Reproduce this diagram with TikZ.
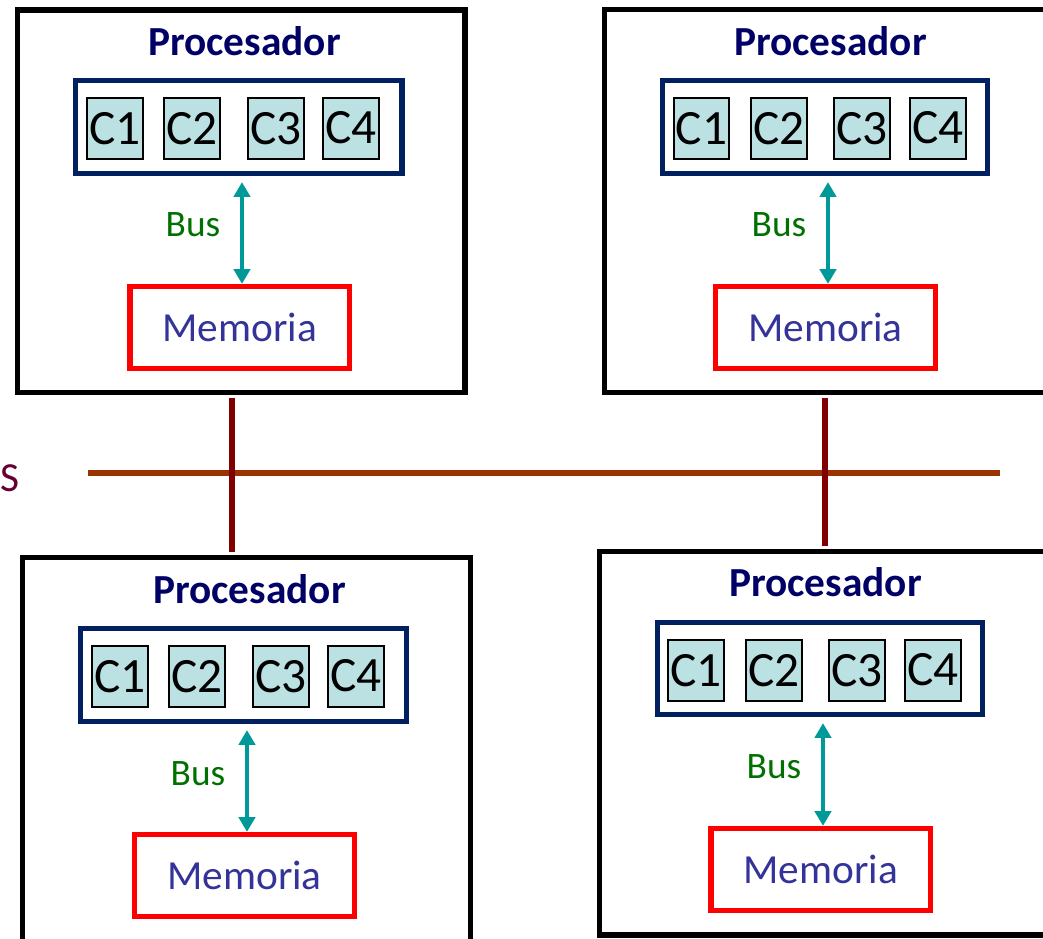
\documentclass[tikz,border=0pt]{standalone}
\usepackage{fontspec}
\setmainfont{Carlito}
\usetikzlibrary{arrows.meta}
\definecolor{navybox}{HTML}{002060}
\definecolor{procblue}{HTML}{000066}
\definecolor{corefill}{HTML}{BCE1E3}
\definecolor{busgreen}{HTML}{007000}
\definecolor{busteal}{HTML}{009999}
\definecolor{memred}{HTML}{FF0000}
\definecolor{memtext}{HTML}{333399}
\definecolor{netline}{HTML}{993300}
\definecolor{linkline}{HTML}{800000}
\definecolor{stext}{HTML}{660033}
\newcommand\rbox[7]{%
  \pgfmathsetmacro\bw{(#5-#3)*0.75}%
  \pgfmathsetmacro\bh{(#6-#4)*0.75}%
  \node[#2, minimum width=\bw pt, minimum height=\bh pt] (#1) at ({(#3+#5)/2},{(#4+#6)/2}) {#7};}
\newcommand\lowc[1]{\raisebox{-2.5pt}{#1}}
\newcommand\highc[1]{\raisebox{1.2pt}{#1}}
\begin{document}
\begin{tikzpicture}[x=0.75pt,y=-0.75pt,
  outer/.style={draw=black, line width=3.9pt, fill=white, inner sep=0pt},
  cache/.style={draw=navybox, line width=3.9pt, inner sep=0pt},
  core/.style={draw=black, line width=1.1pt, fill=corefill, inner sep=0pt, font=\fontsize{37}{37}\selectfont, text=black},
  mem/.style={draw=memred, line width=3.9pt, inner sep=0pt, font=\fontsize{31}{31}\selectfont, text=memtext},
  proc/.style={anchor=base, inner sep=0pt, font=\fontsize{31}{31}\selectfont\bfseries, text=procblue},
  buslbl/.style={anchor=base, inner sep=0pt, font=\fontsize{28}{28}\selectfont, text=busgreen},
  busarrow/.style={draw=busteal, line width=3.6pt, {Triangle[width=12pt,length=11pt]}-{Triangle[width=12pt,length=11pt]}, shorten <=4.5pt},
  netstyle/.style={draw=netline, line width=3.8pt},
  linkstyle/.style={draw=linkline, line width=3.8pt}]
\useasboundingbox (0,0) rectangle (1043,939);
\clip (0,0) rectangle (1043,939);
% ---------- top left ----------
\rbox{tlo}{outer}{17.5}{10}{465}{392.5}{}
\node[proc] (tlp) at (244.5,55) {Procesador};
\rbox{tlc}{cache}{75.5}{80.5}{402}{173.5}{}
\rbox{tl1}{core}{87}{98}{143}{159}{\lowc{C1}}
\rbox{tl2}{core}{164}{98}{220}{159}{\raisebox{-4pt}{C2}}
\rbox{tl3}{core}{248}{98}{304}{159}{C3}
\rbox{tl4}{core}{323}{98}{379}{159}{\highc{C4}}
\rbox{tlm}{mem}{130}{286.5}{349.5}{368.5}{Memoria}
\coordinate (tla) at (242,0);
\draw[busarrow] (tla |- tlc.south) -- (tla |- tlm.north);
\node[buslbl] (tlb) at (193,236.5) {Bus};
% ---------- top right ----------
\rbox{tro}{outer}{604.5}{9.5}{1070}{392.5}{}
\node[proc] (trp) at (830.5,55) {Procesador};
\rbox{trc}{cache}{662.5}{80.5}{987.5}{173.5}{}
\rbox{tr1}{core}{674}{98}{729}{159}{\lowc{C1}}
\rbox{tr2}{core}{751}{98}{807}{159}{\raisebox{-4pt}{C2}}
\rbox{tr3}{core}{834}{98}{890}{159}{C3}
\rbox{tr4}{core}{910}{98}{966}{159}{\highc{C4}}
\rbox{trm}{mem}{715.5}{286.5}{935.5}{368.5}{Memoria}
\coordinate (tra) at (828,0);
\draw[busarrow] (tra |- trc.south) -- (tra |- trm.north);
\node[buslbl] (trb) at (779,236.5) {Bus};
% ---------- bottom left ----------
\rbox{blo}{outer}{22.5}{557.5}{470.5}{975}{}
\node[proc] (blp) at (249.5,603) {Procesador};
\rbox{blc}{cache}{80.5}{628.5}{406.5}{721.5}{}
\rbox{bl1}{core}{92}{646}{148}{707}{\lowc{C1}}
\rbox{bl2}{core}{169}{646}{225}{707}{\raisebox{-4pt}{C2}}
\rbox{bl3}{core}{253}{646}{309}{707}{C3}
\rbox{bl4}{core}{328}{646}{384}{707}{\highc{C4}}
\rbox{blm}{mem}{134.5}{834.5}{354.5}{916.5}{Memoria}
\coordinate (bla) at (247,0);
\draw[busarrow] (bla |- blc.south) -- (bla |- blm.north);
\node[buslbl] (blb) at (198,785) {Bus};
% ---------- bottom right ----------
\rbox{bro}{outer}{599.5}{551.5}{1070}{935}{}
\node[proc] (brp) at (825.5,596.7) {Procesador};
\rbox{brc}{cache}{657.5}{622.5}{982.5}{714.5}{}
\rbox{br1}{core}{668}{640}{724}{701}{\lowc{C1}}
\rbox{br2}{core}{746}{640}{802}{701}{\raisebox{-4pt}{C2}}
\rbox{br3}{core}{829}{640}{885}{701}{C3}
\rbox{br4}{core}{905}{640}{961}{701}{\highc{C4}}
\rbox{brm}{mem}{711}{828.5}{930.5}{910.5}{Memoria}
\coordinate (bra) at (823,0);
\draw[busarrow] (bra |- brc.south) -- (bra |- brm.north);
\node[buslbl] (brb) at (774,778) {Bus};
% ---------- interconnect ----------
\node[anchor=base west, inner sep=0pt, font=\fontsize{31}{31}\selectfont, text=stext] (slbl) at (0,491.5) {S};
\coordinate (hb1) at (88,473);
\coordinate (hb2) at (1000,473);
\draw[netstyle] (hb1) -- (hb2);
\coordinate (v1) at (232,0);
\coordinate (v2) at (825,0);
\draw[linkstyle] ([yshift=-1.95pt]v1 |- tlo.south) -- ([yshift=1.95pt]v1 |- blo.north);
\draw[linkstyle] ([yshift=-1.95pt]v2 |- tro.south) -- ([yshift=1.95pt]v2 |- bro.north);
\end{tikzpicture}
\end{document}
